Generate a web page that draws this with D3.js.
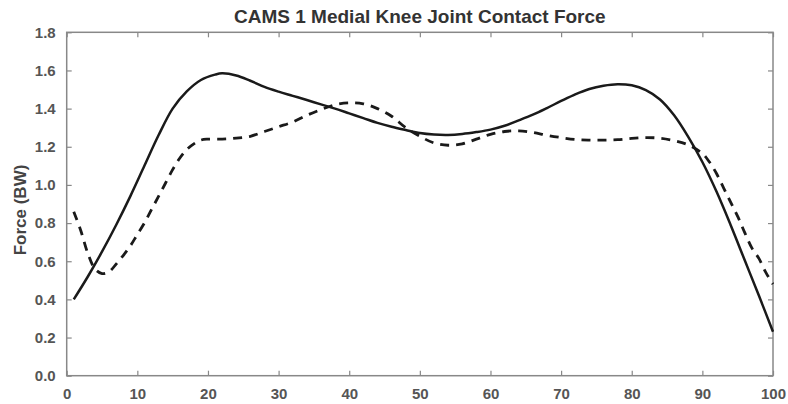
<!DOCTYPE html>
<html>
<head>
<meta charset="utf-8">
<script src="https://d3js.org/d3.v7.min.js"></script>
<style>
  body { margin: 0; background: #fff; }
  svg { display: block; font-family: "Liberation Sans", Arial, sans-serif; }
  .axis text { font-size: 15px; font-weight: bold; fill: #555; }
</style>
</head>
<body>
<svg width="788" height="404"></svg>
<script>
// solid curve (gait cycle %, force in BW)
var solidX = [1, 3, 5, 7, 9, 11, 13, 15, 17, 19, 21, 22, 24, 26, 28, 30, 32, 34, 36, 38, 40,
    42, 44, 46, 48, 50, 52, 54, 56, 58, 60, 62, 64, 66, 68, 70, 72, 74, 76, 78, 80,
    82, 84, 86, 88, 90, 92, 94, 96, 98, 100];
var solidY = [0.40, 0.52, 0.65, 0.79, 0.94, 1.10, 1.26, 1.40, 1.49, 1.55, 1.578, 1.585, 1.574, 1.546, 1.514, 1.489, 1.467, 1.445, 1.422, 1.40, 1.375,
    1.35, 1.325, 1.305, 1.288, 1.272, 1.264, 1.262, 1.267, 1.277, 1.29, 1.31, 1.338, 1.368, 1.403, 1.44, 1.475, 1.503, 1.52, 1.528, 1.522,
    1.497, 1.448, 1.365, 1.252, 1.12, 0.965, 0.79, 0.605, 0.42, 0.23];

// dashed curve
var dashX = [1, 2, 3, 4, 5, 6, 7, 8, 9, 10, 11, 12, 13, 14, 15, 16, 17, 18, 19, 20, 22, 24, 26, 28, 30,
    32, 34, 36, 38, 40, 42, 44, 46, 48, 50, 52, 54, 56, 58, 60, 62, 64, 66, 68, 70,
    72, 74, 76, 78, 80, 82, 84, 86, 88, 90, 91, 92, 93, 94, 95, 96, 97, 98, 99, 100];
var dashY = [0.86, 0.76, 0.64, 0.56, 0.535, 0.545, 0.585, 0.63, 0.68, 0.74, 0.80, 0.87, 0.94, 1.01, 1.08, 1.14, 1.185, 1.215, 1.235, 1.24, 1.24, 1.245, 1.255, 1.28, 1.305,
    1.33, 1.365, 1.395, 1.42, 1.43, 1.425, 1.40, 1.36, 1.30, 1.255, 1.22, 1.208, 1.215, 1.24, 1.265, 1.28, 1.283, 1.275, 1.26, 1.248,
    1.238, 1.235, 1.235, 1.237, 1.244, 1.248, 1.245, 1.232, 1.21, 1.165, 1.12, 1.06, 0.985, 0.91, 0.835, 0.75, 0.67, 0.615, 0.54, 0.48];

var xTicks = [0, 10, 20, 30, 40, 50, 60, 70, 80, 90, 100];
var yTicks = [0, 0.2, 0.4, 0.6, 0.8, 1.0, 1.2, 1.4, 1.6, 1.8];

var svg = d3.select("svg"),
    width = +svg.attr("width"),
    height = +svg.attr("height");

var plotL = 66.7, plotR = 773, plotT = 32.3, plotB = 375.7;

var x = d3.scaleLinear().domain([0, 100]).range([plotL, plotR]);
var y = d3.scaleLinear().domain([0, 1.8]).range([plotB, plotT]);

var axisColor = "#888";

// box with inward ticks on every side
function styleAxis(g) {
    g.select(".domain").remove();
    g.selectAll(".tick line").attr("stroke", axisColor).attr("stroke-width", 1.2);
}

svg.append("g")
    .attr("class", "axis")
    .attr("transform", "translate(0," + plotB + ")")
    .call(d3.axisBottom(x).tickValues(xTicks).tickSizeInner(-5).tickSizeOuter(0).tickPadding(13))
    .call(styleAxis);

svg.append("g")
    .attr("class", "axis")
    .attr("transform", "translate(0," + plotT + ")")
    .call(d3.axisTop(x).tickValues(xTicks).tickSizeInner(-5).tickSizeOuter(0).tickFormat(""))
    .call(styleAxis);

svg.append("g")
    .attr("class", "axis")
    .attr("transform", "translate(" + plotL + ",0)")
    .call(d3.axisLeft(y).tickValues(yTicks).tickSizeInner(-5).tickSizeOuter(0).tickPadding(11)
        .tickFormat(d3.format(".1f")))
    .call(styleAxis);

svg.append("g")
    .attr("class", "axis")
    .attr("transform", "translate(" + plotR + ",0)")
    .call(d3.axisRight(y).tickValues(yTicks).tickSizeInner(-5).tickSizeOuter(0).tickFormat(""))
    .call(styleAxis);

svg.append("rect")
    .attr("x", plotL)
    .attr("y", plotT)
    .attr("width", plotR - plotL)
    .attr("height", plotB - plotT)
    .attr("fill", "none")
    .attr("stroke", axisColor)
    .attr("stroke-width", 1.5);

var line = d3.line()
    .x(function(d) { return x(d[0]); })
    .y(function(d) { return y(d[1]); })
    .curve(d3.curveCatmullRom);

var solid = solidX.map(function(d, i) { return [d, solidY[i]]; });
var dashed = dashX.map(function(d, i) { return [d, dashY[i]]; });

svg.append("path")
    .datum(dashed)
    .attr("d", line)
    .attr("fill", "none")
    .attr("stroke", "#1a1a1a")
    .attr("stroke-width", 2.8)
    .attr("stroke-dasharray", "9,7");

svg.append("path")
    .datum(solid)
    .attr("d", line)
    .attr("fill", "none")
    .attr("stroke", "#1a1a1a")
    .attr("stroke-width", 2.5);

svg.append("text")
    .attr("x", (plotL + plotR) / 2)
    .attr("y", 23)
    .attr("text-anchor", "middle")
    .style("font-size", "19px")
    .style("font-weight", "bold")
    .style("fill", "#333")
    .text("CAMS 1 Medial Knee Joint Contact Force");

svg.append("text")
    .attr("transform", "translate(26,210) rotate(-90)")
    .attr("text-anchor", "middle")
    .style("font-size", "17px")
    .style("font-weight", "bold")
    .style("fill", "#444")
    .text("Force (BW)");
</script>
</body>
</html>
